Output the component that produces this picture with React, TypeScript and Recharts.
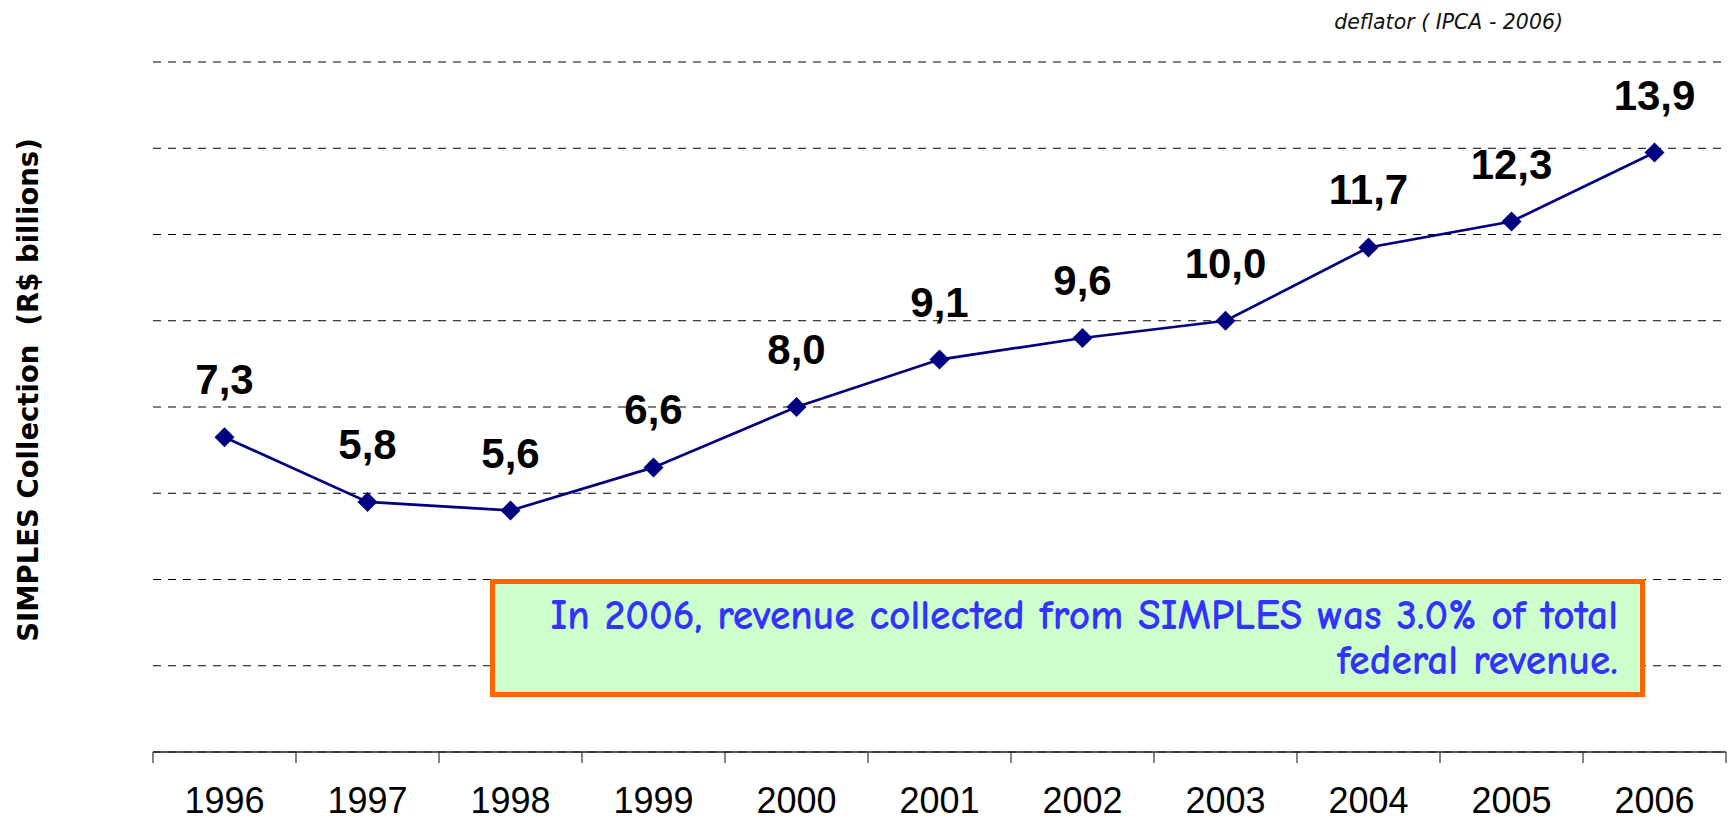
import { CartesianGrid, LabelList, Line, LineChart, XAxis, YAxis } from "recharts"

const YEARS = [1996, 1997, 1998, 1999, 2000, 2001, 2002, 2003, 2004, 2005, 2006]
const COLLECTION = [7.3, 5.8, 5.6, 6.6, 8.0, 9.1, 9.6, 10.0, 11.7, 12.3, 13.9]
const Y_TICKS = [2, 4, 6, 8, 10, 12, 14, 16]
const CATEGORY_EDGES = [
  1995.5, 1996.5, 1997.5, 1998.5, 1999.5, 2000.5, 2001.5, 2002.5, 2003.5,
  2004.5, 2005.5, 2006.5,
]

const Y_TITLE = "SIMPLES Collection  (R$ billions)"
const NOTE_TITLE = "deflator ( IPCA - 2006)"
const NOTE_LINES = [
  "In 2006, revenue collected from SIMPLES was 3.0% of total",
  "federal revenue.",
]

const LINE_COLOR = "#000080"
const ARIAL = "'Liberation Sans', Arial, sans-serif"

const data = YEARS.map((year, i) => ({ year, value: COLLECTION[i] }))

function Diamond(props: any) {
  const { cx, cy } = props
  if (cx == null || cy == null) return null
  const r = 10
  return (
    <polygon
      points={`${cx},${cy - r} ${cx + r},${cy} ${cx},${cy + r} ${cx - r},${cy}`}
      fill={LINE_COLOR}
    />
  )
}

export default function App() {
  return (
    <div
      style={{
        position: "absolute",
        left: 0,
        top: 0,
        width: 1732,
        height: 820,
        background: "#fff",
      }}
    >
      <LineChart
        width={1732}
        height={820}
        data={data}
        margin={{ top: 62, right: 6, left: 153, bottom: 0 }}
      >
        <CartesianGrid
          xAxisId="edges"
          vertical={false}
          stroke="#000"
          strokeDasharray="8 7"
        />
        <XAxis
          xAxisId="edges"
          dataKey="year"
          type="number"
          domain={[1995.5, 2006.5]}
          ticks={CATEGORY_EDGES}
          interval={0}
          tick={() => <g />}
          tickSize={11}
          height={12}
          axisLine={{ stroke: "#222", strokeWidth: 1.5 }}
          tickLine={{ stroke: "#333", strokeWidth: 1.2 }}
        />
        <XAxis
          xAxisId="years"
          dataKey="year"
          type="number"
          domain={[1995.5, 2006.5]}
          ticks={YEARS}
          interval={0}
          height={56}
          axisLine={false}
          tickLine={false}
          tickSize={21}
          tickMargin={2}
          tick={{ fontSize: 36, fill: "#000", fontFamily: ARIAL }}
        />
        <YAxis hide domain={[0, 16]} ticks={Y_TICKS} />
        <Line
          xAxisId="edges"
          dataKey="value"
          type="linear"
          stroke={LINE_COLOR}
          strokeWidth={2.7}
          dot={<Diamond />}
          activeDot={false}
          isAnimationActive={false}
        >
          <LabelList
            dataKey="value"
            position="top"
            offset={43}
            formatter={(v: any) => Number(v).toFixed(1).replace(".", ",")}
            style={{
              fontSize: 42,
              fontWeight: "bold",
              fill: "#000",
              fontFamily: ARIAL,
            }}
          />
        </Line>
      </LineChart>

      <svg
        width={1732}
        height={820}
        style={{ position: "absolute", left: 0, top: 0, pointerEvents: "none" }}
      >
        <text
          x={28}
          y={390}
          transform="rotate(-90 28 390)"
          textAnchor="middle"
          dominantBaseline="central"
          fontSize={27.5}
          fontWeight="bold"
          fontFamily="'DejaVu Sans', Verdana, sans-serif"
          fill="#000"
          style={{ whiteSpace: "pre" }}
        >
          {Y_TITLE}
        </text>
        <text
          x={1563}
          y={29}
          textAnchor="end"
          fontSize={20.5}
          fontStyle="italic"
          fontFamily="'DejaVu Sans', sans-serif"
          fill="#111"
        >
          {NOTE_TITLE}
        </text>
        <rect
          x={492.5}
          y={581.5}
          width={1150}
          height={113}
          fill="#CCFFCC"
          stroke="#FF6600"
          strokeWidth={5}
        />
        {NOTE_LINES.map((line, i) => (
          <text
            key={i}
            x={1618}
            y={629 + i * 45}
            textAnchor="end"
            fontSize={41.5}
            fontWeight={600}
            fontFamily="'Comic Sans MS', 'Comic Neue', 'Open Sans', sans-serif"
            fill="#3333FF"
          >
            {line}
          </text>
        ))}
      </svg>
    </div>
  )
}
